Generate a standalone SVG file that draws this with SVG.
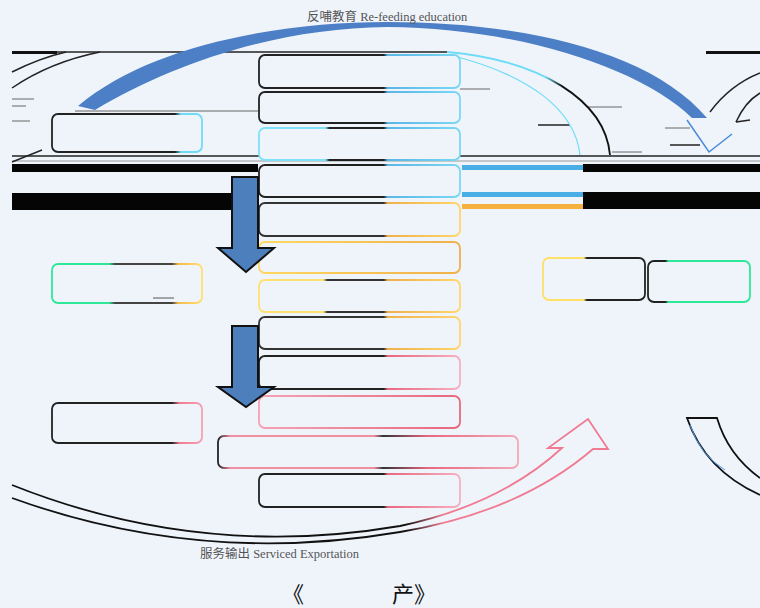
<svg xmlns="http://www.w3.org/2000/svg" width="760" height="608" viewBox="0 0 760 608">
<defs>
<style>
.box{fill:#eff4fb;stroke-width:1.8}
.ln{fill:none;stroke:#222;stroke-width:1.5}
.gl{fill:none;stroke:#666;stroke-width:1}
.cap{font-family:"Liberation Serif","Noto Sans CJK SC",serif;font-size:12.5px;fill:#555}
.ttl{font-family:"Noto Sans CJK SC","Liberation Sans",sans-serif;font-size:22px;fill:#111}
.barrow{fill:#4d7fbc;stroke:#111;stroke-width:2;stroke-linejoin:miter}
</style>
<linearGradient id="gBlue" x1="0" y1="0" x2="1" y2="0"><stop offset="0" stop-color="#222"/><stop offset="0.62" stop-color="#222"/><stop offset="0.64" stop-color="#5ab6e6"/><stop offset="1" stop-color="#7ad8f4"/></linearGradient>
<linearGradient id="gCyan" x1="0" y1="0" x2="1" y2="0"><stop offset="0" stop-color="#7fe2f8"/><stop offset="0.33" stop-color="#7fe2f8"/><stop offset="0.35" stop-color="#222"/><stop offset="0.62" stop-color="#222"/><stop offset="0.64" stop-color="#5ab6e6"/><stop offset="1" stop-color="#7ad8f4"/></linearGradient>
<linearGradient id="gOrange" x1="0" y1="0" x2="1" y2="0"><stop offset="0" stop-color="#333"/><stop offset="0.62" stop-color="#333"/><stop offset="0.64" stop-color="#f0b04a"/><stop offset="1" stop-color="#ffd66a"/></linearGradient>
<linearGradient id="gYel" x1="0" y1="0" x2="1" y2="0"><stop offset="0" stop-color="#ffe070"/><stop offset="0.32" stop-color="#ffe070"/><stop offset="0.34" stop-color="#333"/><stop offset="0.62" stop-color="#333"/><stop offset="0.64" stop-color="#f0b04a"/><stop offset="1" stop-color="#ffd66a"/></linearGradient>
<linearGradient id="gYel2" x1="0" y1="0" x2="1" y2="0"><stop offset="0" stop-color="#ffd860"/><stop offset="1" stop-color="#f0b04a"/></linearGradient>
<linearGradient id="gPink" x1="0" y1="0" x2="1" y2="0"><stop offset="0" stop-color="#222"/><stop offset="0.62" stop-color="#222"/><stop offset="0.64" stop-color="#e8687f"/><stop offset="1" stop-color="#f6b0c0"/></linearGradient>
<linearGradient id="gPink2" x1="0" y1="0" x2="1" y2="0"><stop offset="0" stop-color="#f4a2b4"/><stop offset="1" stop-color="#e8687f"/></linearGradient>
<linearGradient id="gPinkW" x1="0" y1="0" x2="1" y2="0"><stop offset="0" stop-color="#222"/><stop offset="0.04" stop-color="#f08ea2"/><stop offset="0.52" stop-color="#f08ea2"/><stop offset="0.55" stop-color="#333"/><stop offset="0.7" stop-color="#e8687f"/><stop offset="1" stop-color="#f4a8b8"/></linearGradient>
<linearGradient id="gL1" x1="0" y1="0" x2="1" y2="0"><stop offset="0" stop-color="#222"/><stop offset="0.82" stop-color="#222"/><stop offset="0.86" stop-color="#6fdcf7"/><stop offset="1" stop-color="#6fdcf7"/></linearGradient>
<linearGradient id="gL2" x1="0" y1="0" x2="1" y2="0"><stop offset="0" stop-color="#2ee89a"/><stop offset="0.38" stop-color="#2ee89a"/><stop offset="0.42" stop-color="#444"/><stop offset="0.8" stop-color="#444"/><stop offset="0.84" stop-color="#f5b84a"/><stop offset="1" stop-color="#ffe070"/></linearGradient>
<linearGradient id="gL3" x1="0" y1="0" x2="1" y2="0"><stop offset="0" stop-color="#222"/><stop offset="0.8" stop-color="#222"/><stop offset="0.85" stop-color="#f07a90"/><stop offset="1" stop-color="#f6a0b2"/></linearGradient>
<linearGradient id="gR1" x1="0" y1="0" x2="1" y2="0"><stop offset="0" stop-color="#ffe066"/><stop offset="0.4" stop-color="#ffe066"/><stop offset="0.43" stop-color="#222"/><stop offset="1" stop-color="#222"/></linearGradient>
<linearGradient id="gR2" x1="0" y1="0" x2="1" y2="0"><stop offset="0" stop-color="#222"/><stop offset="0.17" stop-color="#222"/><stop offset="0.2" stop-color="#2ee89a"/><stop offset="1" stop-color="#2ee89a"/></linearGradient>
<linearGradient id="gBot" gradientUnits="userSpaceOnUse" x1="12" y1="0" x2="610" y2="0"><stop offset="0" stop-color="#111"/><stop offset="0.66" stop-color="#111"/><stop offset="0.72" stop-color="#f07a90"/><stop offset="1" stop-color="#f07a90"/></linearGradient>
<linearGradient id="gTopR" gradientUnits="userSpaceOnUse" x1="440" y1="0" x2="615" y2="0"><stop offset="0" stop-color="#6fdcf7"/><stop offset="0.6" stop-color="#6fdcf7"/><stop offset="0.7" stop-color="#111"/><stop offset="1" stop-color="#111"/></linearGradient>
</defs>
<rect width="760" height="608" fill="#eff4fb"/>

<g id="connectors">
  <line x1="12" y1="52" x2="447" y2="52" class="ln" stroke-width="1.2"/>
  <rect x="12" y="51" width="45" height="3" fill="#111"/>
  <rect x="706" y="51" width="54" height="3" fill="#111"/>
  <line x1="12" y1="156" x2="760" y2="156" class="ln" stroke-width="1.5"/>
  <line x1="12" y1="161" x2="760" y2="161" stroke="#999" stroke-width="1.2"/>
  <rect x="12" y="164" width="246" height="8" fill="#050505"/>
  <rect x="583" y="164" width="177" height="8" fill="#050505"/>
  <rect x="462" y="165" width="121" height="5" fill="#4aaee6"/>
  <rect x="12" y="193" width="220" height="17" fill="#050505"/>
  <rect x="583" y="192" width="177" height="17" fill="#050505"/>
  <rect x="462" y="192" width="121" height="5" fill="#4aaee6"/>
  <rect x="462" y="204" width="121" height="5" fill="#f5b040"/>
  <line x1="75" y1="111" x2="258" y2="111" class="gl"/>
  <line x1="12" y1="99" x2="34" y2="99" class="gl" stroke-width="1.5"/>
  <line x1="12" y1="106" x2="26" y2="106" class="gl" stroke-width="1.5"/>
  <line x1="12" y1="121" x2="30" y2="121" class="gl" stroke-width="1.5"/>
  <line x1="460" y1="89" x2="490" y2="89" class="gl"/>
  <line x1="538" y1="125" x2="570" y2="125" class="ln" stroke-width="2"/>
  <line x1="588" y1="107" x2="622" y2="107" class="gl"/>
  <line x1="612" y1="152" x2="642" y2="152" class="gl"/>
  <line x1="670" y1="145" x2="700" y2="145" class="ln"/>
  <line x1="665" y1="128" x2="690" y2="128" class="gl"/>

  <path d="M78,106 C150,45 280,22 387,22 C520,22 650,50 707,118 L692,118 C640,68 520,28 387,27 C280,28 175,62 95,110 Z" fill="#4c7fc6"/>
  <path d="M12,72 Q40,58 66,52" class="ln"/>
  <path d="M12,88 Q50,62 100,52" class="ln"/>
  <path d="M42,150 L12,162" class="ln"/>
  <path d="M447,52 C540,60 605,100 610,155" fill="none" stroke="url(#gTopR)" stroke-width="1.8"/>
  <path d="M450,55 C530,75 575,110 580,155" fill="none" stroke="#6fdcf7" stroke-width="1.2"/>
  <path d="M687,120 L709,152 L732,134" fill="none" stroke="#4a8ad8" stroke-width="1.5"/>
  <path d="M710,112 Q730,85 760,73" class="ln"/>
  <path d="M736,122 L750,120" class="ln"/>
  <path d="M736,122 Q745,102 760,93" class="ln"/>

  <path d="M12,485 Q200,560 400,526 Q500,505 562,448 L548,448 L588,419 L608,449 L593,449 Q520,512 400,532 Q200,566 12,498" fill="none" stroke="url(#gBot)" stroke-width="1.8" stroke-linejoin="miter"/>
  <path d="M760,495 Q705,470 687,418 L717,418 Q728,455 760,478" fill="none" stroke="#111" stroke-width="1.8"/>
  <path d="M690,425 Q700,455 725,470" fill="none" stroke="#4a9ae8" stroke-width="1"/>
</g>

<g id="n1"><rect class="box" x="259" y="55" width="201" height="33" rx="6" stroke="url(#gBlue)"/></g>
<g id="n2"><rect class="box" x="259" y="92" width="201" height="31" rx="6" stroke="url(#gBlue)"/></g>
<g id="n3"><rect class="box" x="259" y="128" width="201" height="32" rx="6" stroke="url(#gCyan)"/></g>
<g id="n4"><rect class="box" x="259" y="165" width="201" height="32" rx="6" stroke="url(#gBlue)"/></g>
<g id="n5"><rect class="box" x="259" y="203" width="201" height="33" rx="6" stroke="url(#gOrange)"/></g>
<g id="n6"><rect class="box" x="259" y="242" width="201" height="31" rx="6" stroke="url(#gYel2)"/></g>
<g id="n7"><rect class="box" x="259" y="280" width="201" height="32" rx="6" stroke="url(#gYel)"/></g>
<g id="n8"><rect class="box" x="259" y="317" width="201" height="32" rx="6" stroke="url(#gOrange)"/></g>
<g id="n9"><rect class="box" x="259" y="356" width="201" height="33" rx="6" stroke="url(#gPink)"/></g>
<g id="n10"><rect class="box" x="259" y="396" width="201" height="32" rx="6" stroke="url(#gPink2)"/></g>
<g id="n11"><rect class="box" x="218" y="436" width="300" height="32" rx="6" stroke="url(#gPinkW)"/></g>
<g id="n12"><rect class="box" x="259" y="474" width="201" height="33" rx="6" stroke="url(#gPink)"/></g>

<g id="l1"><rect class="box" x="52" y="114" width="150" height="38" rx="6" stroke="url(#gL1)"/></g>
<g id="l2"><rect class="box" x="52" y="264" width="150" height="39" rx="6" stroke="url(#gL2)"/><line x1="153" y1="298" x2="174" y2="298" stroke="#555" stroke-width="1"/></g>
<g id="l3"><rect class="box" x="52" y="403" width="150" height="40" rx="6" stroke="url(#gL3)"/></g>
<g id="r1"><rect class="box" x="543" y="258" width="102" height="42" rx="6" stroke="url(#gR1)"/></g>
<g id="r2"><rect class="box" x="648" y="261" width="102" height="41" rx="6" stroke="url(#gR2)"/></g>

<g id="arrows">
  <polygon class="barrow" points="232,177 258,177 258,248 274,248 246,272 218,248 232,248"/>
  <polygon class="barrow" points="232,326 258,326 258,387 274,387 246,407 218,387 232,387"/>
</g>

<text class="cap" x="307" y="21">反哺教育 Re-feeding education</text>
<text class="cap" x="200" y="558">服务输出 Serviced Exportation</text>
<text class="ttl" x="282" y="602">《</text>
<text class="ttl" x="392" y="602">产》</text>
</svg>
